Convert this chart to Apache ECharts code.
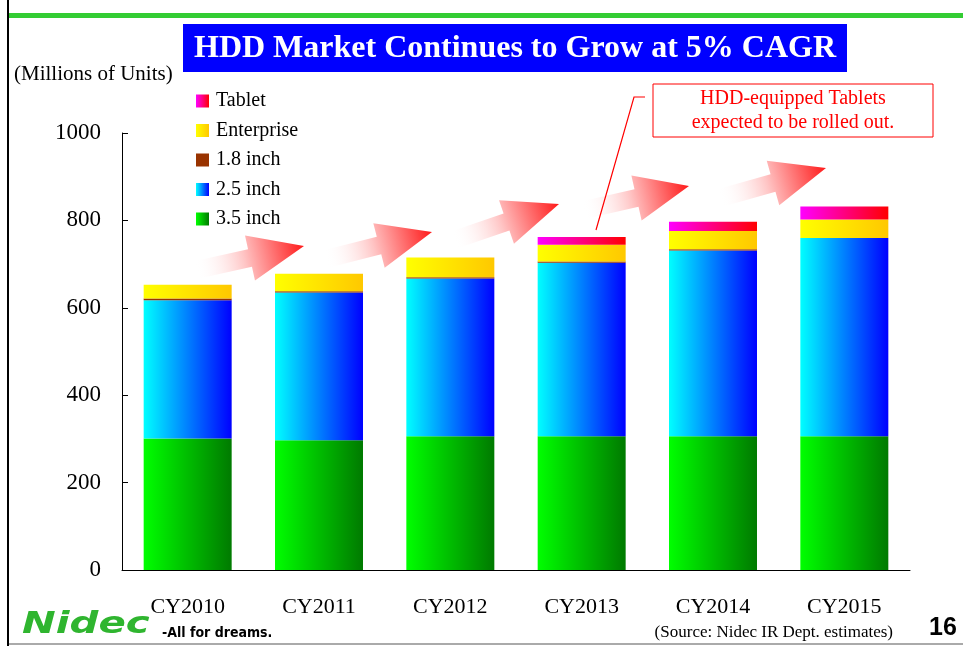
<!DOCTYPE html>
<html>
<head>
<meta charset="utf-8">
<title>HDD Market</title>
<script src="https://cdn.jsdelivr.net/npm/echarts@6/dist/echarts.min.js"></script>
<style>
  html, body { margin: 0; padding: 0; background: #fff; }
  #chart { width: 963px; height: 646px; }
</style>
</head>
<body>
<div id="chart"></div>
<script>
// data (millions of units)
const years = ['CY2010', 'CY2011', 'CY2012', 'CY2013', 'CY2014', 'CY2015'];
const inch35 = [301, 297, 306, 306, 306, 306];
const inch25 = [316, 338, 361, 397, 425, 454];
const inch18 = [4, 3, 3, 3, 3, 0];
const enterprise = [32, 40, 45, 38, 42, 42];
const tablet = [0, 0, 0, 18, 21, 30];
const yTicks = [0, 200, 400, 600, 800, 1000];

// decorative growth arrows: [tailX, tailY, tipX, tipY]
const arrows = [
  [196, 270, 304, 246],
  [326, 259, 432, 232],
  [454, 240, 559, 204],
  [584, 210, 689, 186],
  [720, 198, 826, 168]
];

const serif = '"Liberation Serif", "Times New Roman", serif';
const chart = echarts.init(document.getElementById('chart'));

function grad(c1, c2) {
  return new echarts.graphic.LinearGradient(0, 0, 1, 0, [
    { offset: 0, color: c1 },
    { offset: 1, color: c2 }
  ]);
}

function arrowShape(len) {
  const head = len * 0.5;
  return [[0, -9], [len - head, -9], [len - head, -23], [len, 0],
          [len - head, 23], [len - head, 9], [0, 9]];
}

const arrowGraphics = arrows.map(a => {
  const dx = a[2] - a[0], dy = a[3] - a[1];
  const len = Math.sqrt(dx * dx + dy * dy);
  return {
    type: 'polygon',
    x: a[0], y: a[1],
    rotation: -Math.atan2(dy, dx),
    shape: { points: arrowShape(len) },
    style: {
      fill: new echarts.graphic.LinearGradient(0, 0, 1, 0, [
        { offset: 0, color: 'rgba(255,255,255,0)' },
        { offset: 0.45, color: '#ffc4c4' },
        { offset: 1, color: '#ff1a1a' }
      ])
    },
    z: 1
  };
});

function barSeries(name, data, color) {
  return {
    name: name,
    type: 'bar',
    stack: 'hdd',
    data: data,
    barCategoryGap: '33%',
    itemStyle: { color: color },
    emphasis: { disabled: true }
  };
}

chart.setOption({
  animation: false,
  backgroundColor: '#fff',
  grid: { left: 122, right: 53, top: 133, bottom: 76 },
  legend: {
    orient: 'vertical',
    left: 191, top: 86,
    icon: 'rect',
    itemWidth: 13, itemHeight: 13,
    itemGap: 9.5,
    selectedMode: false,
    data: ['Tablet', 'Enterprise', '1.8 inch', '2.5 inch', '3.5 inch'],
    textStyle: { fontFamily: serif, fontSize: 20, lineHeight: 20, color: '#000', padding: [0, 0, 0, 2] }
  },
  xAxis: {
    type: 'category',
    data: years,
    axisLine: { lineStyle: { color: '#000', width: 1 } },
    axisTick: { inside: true, length: 7, lineStyle: { color: '#000' } },
    axisLabel: { fontFamily: serif, fontSize: 22, color: '#000', margin: 26 }
  },
  yAxis: {
    type: 'value',
    min: yTicks[0], max: yTicks[yTicks.length - 1], interval: yTicks[1] - yTicks[0],
    splitLine: { show: false },
    axisLine: { show: true, lineStyle: { color: '#000', width: 1 } },
    axisTick: { show: true, inside: true, length: 6, lineStyle: { color: '#000' } },
    axisLabel: { fontFamily: serif, fontSize: 23, color: '#000', margin: 21, formatter: v => String(v) }
  },
  series: [
    barSeries('3.5 inch', inch35, grad('#00ff00', '#007a00')),
    barSeries('2.5 inch', inch25, grad('#00ffff', '#0000ff')),
    barSeries('1.8 inch', inch18, '#993300'),
    barSeries('Enterprise', enterprise, grad('#ffff00', '#ffc800')),
    barSeries('Tablet', tablet, grad('#ff00ff', '#ff0000'))
  ],
  graphic: [
    // slide frame
    { type: 'rect', shape: { x: 7, y: 0, width: 2, height: 646 }, style: { fill: '#000' }, silent: true },
    { type: 'rect', shape: { x: 9, y: 13, width: 954, height: 5 }, style: { fill: '#33cc33' }, silent: true },
    { type: 'rect', shape: { x: 9, y: 643, width: 954, height: 2 }, style: { fill: '#aaa' }, silent: true },
    // title banner
    { type: 'rect', shape: { x: 183, y: 24, width: 664, height: 48 }, style: { fill: '#0000ff' } },
    {
      type: 'text', x: 515, y: 49,
      style: { text: 'HDD Market Continues to Grow at 5% CAGR', fill: '#fff', font: 'bold 32px ' + serif, align: 'center', verticalAlign: 'middle' }
    },
    {
      type: 'text', x: 14, y: 74,
      style: { text: '(Millions of Units)', fill: '#000', font: '21px ' + serif, verticalAlign: 'middle' }
    },
    // callout
    { type: 'rect', shape: { x: 653, y: 84, width: 280, height: 53 }, style: { fill: '#fff', stroke: '#ff0000', lineWidth: 1 } },
    {
      type: 'text', x: 793, y: 111,
      style: { text: 'HDD-equipped Tablets\nexpected to be rolled out.', fill: '#ff0000', font: '20px ' + serif, lineHeight: 24, align: 'center', verticalAlign: 'middle' }
    },
    { type: 'polyline', shape: { points: [[645, 97], [634, 97], [596, 230]] }, style: { stroke: '#ff0000', lineWidth: 1.2, fill: null }, z: 5 },
    ...arrowGraphics,
    // footer
    {
      type: 'text', x: 22, y: 625, scaleX: 1.3,
      style: { text: 'Nidec', fill: '#2fb52f', font: 'italic 900 31px "DejaVu Sans", sans-serif', verticalAlign: 'middle' }
    },
    {
      type: 'text', x: 162, y: 633,
      style: { text: '-All for dreams.', fill: '#000', font: 'bold 14px "DejaVu Sans Condensed", "DejaVu Sans", sans-serif', verticalAlign: 'middle' }
    },
    {
      type: 'text', x: 893, y: 633,
      style: { text: '(Source: Nidec IR Dept. estimates)', fill: '#000', font: '17px ' + serif, align: 'right', verticalAlign: 'middle' }
    },
    {
      type: 'text', x: 943, y: 628,
      style: { text: '16', fill: '#000', font: 'bold 25px "Liberation Sans", Arial, sans-serif', align: 'center', verticalAlign: 'middle' }
    }
  ]
});
</script>
</body>
</html>
